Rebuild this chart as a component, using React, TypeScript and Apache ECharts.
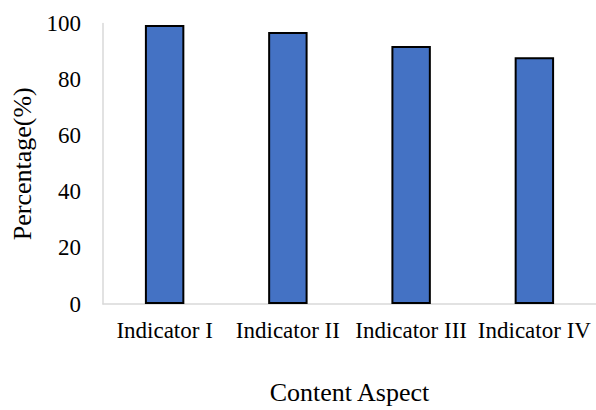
import React, { useEffect, useRef } from "react";
import * as echarts from "echarts";

const categories = ["Indicator I", "Indicator II", "Indicator III", "Indicator IV"];
const values = [99.5, 97, 92, 88];
const yTicks = { min: 0, max: 100, interval: 20 };
const xName = "Content Aspect";
const yName = "Percentage(%)";

const FONT = "'Liberation Serif', 'Times New Roman', serif";

export default function App() {
  const ref = useRef<HTMLDivElement>(null);
  useEffect(() => {
    if (!ref.current) return;
    const chart = echarts.init(ref.current, null, { renderer: "svg" });
    chart.setOption({
      animation: false,
      backgroundColor: "#ffffff",
      grid: { left: 103, right: -2, top: 23.5, bottom: 100, containLabel: false },
      xAxis: {
        type: "category",
        data: categories,
        name: xName,
        nameLocation: "middle",
        nameGap: 75,
        nameTextStyle: { fontFamily: FONT, fontSize: 26, color: "#000" },
        axisLine: { show: true, lineStyle: { color: "#d9d9d9", width: 1.5 } },
        axisTick: { show: false },
        axisLabel: { fontFamily: FONT, fontSize: 23, color: "#000", margin: 15, interval: 0 },
      },
      yAxis: {
        type: "value",
        min: yTicks.min,
        max: yTicks.max,
        interval: yTicks.interval,
        name: yName,
        nameLocation: "middle",
        nameGap: 68,
        nameRotate: 90,
        nameTextStyle: { fontFamily: FONT, fontSize: 26, color: "#000" },
        axisLine: { show: true, lineStyle: { color: "#d9d9d9", width: 1.5 } },
        axisTick: { show: false },
        splitLine: { show: false },
        axisLabel: { fontFamily: FONT, fontSize: 23, color: "#000", margin: 22 },
      },
      series: [
        {
          type: "bar",
          data: values,
          barWidth: "32%",
          itemStyle: { color: "#4472c4", borderColor: "#000", borderWidth: 2 },
        },
      ],
    });
    return () => chart.dispose();
  }, []);
  return (
    <div
      ref={ref}
      style={{ position: "fixed", left: 0, top: 0, width: 596, height: 410, background: "#fff" }}
    />
  );
}
